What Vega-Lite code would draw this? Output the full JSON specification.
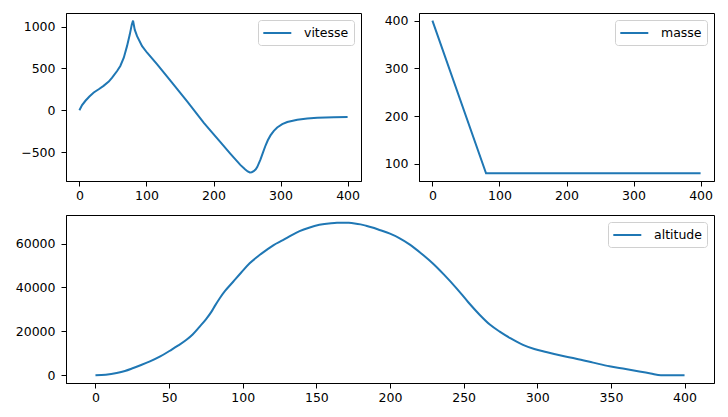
{
  "$schema": "https://vega.github.io/schema/vega-lite/v6.json",
  "autosize": {"type": "none"},
  "padding": {"left": 66, "top": 13, "right": 662, "bottom": 404},
  "background": "white",
  "datasets": {
    "vitesse": [
      {"t": 0, "v": 0}, {"t": 4, "v": 62}, {"t": 9, "v": 114}, {"t": 14.9, "v": 165}, {"t": 21.4, "v": 213},
      {"t": 28.8, "v": 252}, {"t": 36, "v": 292}, {"t": 43.8, "v": 343}, {"t": 48.8, "v": 390}, {"t": 56.2, "v": 470},
      {"t": 61, "v": 530}, {"t": 66.2, "v": 628}, {"t": 71, "v": 767}, {"t": 75.1, "v": 905}, {"t": 78.1, "v": 1024},
      {"t": 80, "v": 1072}, {"t": 82.5, "v": 964}, {"t": 86, "v": 886}, {"t": 93.5, "v": 767}, {"t": 101, "v": 688},
      {"t": 116, "v": 549}, {"t": 136, "v": 351}, {"t": 160.7, "v": 106}, {"t": 185.6, "v": -150}, {"t": 195.5, "v": -243},
      {"t": 210, "v": -378}, {"t": 225, "v": -517}, {"t": 240, "v": -652}, {"t": 247, "v": -705}, {"t": 251, "v": -731},
      {"t": 254.2, "v": -742}, {"t": 257, "v": -740}, {"t": 260, "v": -727}, {"t": 263, "v": -705}, {"t": 265.2, "v": -678},
      {"t": 270, "v": -590}, {"t": 274, "v": -500}, {"t": 277.6, "v": -421}, {"t": 281, "v": -358}, {"t": 285, "v": -300},
      {"t": 290, "v": -245}, {"t": 295, "v": -205}, {"t": 302.5, "v": -166}, {"t": 310, "v": -140}, {"t": 325, "v": -112},
      {"t": 339.8, "v": -97}, {"t": 354.7, "v": -88}, {"t": 379.6, "v": -82}, {"t": 400, "v": -79}
    ],
    "masse": [
      {"t": 0, "m": 400}, {"t": 80, "m": 80}, {"t": 400, "m": 80}
    ],
    "altitude": [
      {"t": 0, "a": 0}, {"t": 7, "a": 300}, {"t": 14.4, "a": 1090}, {"t": 20, "a": 2000}, {"t": 25.7, "a": 3350},
      {"t": 31, "a": 4700}, {"t": 37, "a": 6350}, {"t": 44, "a": 8600}, {"t": 50.5, "a": 11200}, {"t": 56, "a": 13500},
      {"t": 61.8, "a": 16200}, {"t": 66, "a": 18600}, {"t": 70.8, "a": 22200}, {"t": 75, "a": 25500}, {"t": 78.8, "a": 29000},
      {"t": 81, "a": 31500}, {"t": 84.4, "a": 35100}, {"t": 88, "a": 38400}, {"t": 93.5, "a": 42600}, {"t": 99, "a": 46800},
      {"t": 104.7, "a": 51000}, {"t": 110, "a": 54000}, {"t": 116, "a": 57000}, {"t": 121, "a": 59300}, {"t": 127.3, "a": 61500},
      {"t": 133, "a": 63700}, {"t": 138.6, "a": 65600}, {"t": 145, "a": 67200}, {"t": 152, "a": 68500}, {"t": 160, "a": 69250},
      {"t": 164, "a": 69450}, {"t": 168, "a": 69500}, {"t": 172, "a": 69420}, {"t": 176, "a": 69150}, {"t": 180, "a": 68700},
      {"t": 183.7, "a": 68100}, {"t": 188, "a": 67300}, {"t": 192, "a": 66400}, {"t": 200, "a": 64500},
      {"t": 206, "a": 62600}, {"t": 213.5, "a": 59500}, {"t": 221, "a": 55600}, {"t": 229.3, "a": 50800}, {"t": 237, "a": 45600},
      {"t": 245.2, "a": 39600}, {"t": 253, "a": 33400}, {"t": 261, "a": 27500}, {"t": 268, "a": 23000}, {"t": 274.5, "a": 19900},
      {"t": 282, "a": 16800}, {"t": 290.3, "a": 13900}, {"t": 298, "a": 12000}, {"t": 306, "a": 10600}, {"t": 316, "a": 9000},
      {"t": 326.4, "a": 7600}, {"t": 338, "a": 5800}, {"t": 349, "a": 4100}, {"t": 360, "a": 2900}, {"t": 369.3, "a": 1800},
      {"t": 377, "a": 850}, {"t": 384, "a": 0}, {"t": 400, "a": 0}
    ]
  },
  "vconcat": [
    {
      "hconcat": [
        {
          "width": 295,
          "height": 168,
          "data": {"name": "vitesse"},
          "mark": {"type": "line", "strokeWidth": 2, "clip": true},
          "encoding": {
            "x": {"field": "t", "type": "quantitative", "scale": {"domain": [-20, 420], "nice": false, "zero": false}, "axis": {"values": [0, 100, 200, 300, 400], "title": null}},
            "y": {"field": "v", "type": "quantitative", "scale": {"domain": [-845, 1163], "nice": false, "zero": false}, "axis": {"values": [-500, 0, 500, 1000], "format": "d", "title": null}},
            "color": {"datum": "vitesse", "type": "nominal", "scale": {"range": ["#1f77b4"]}, "legend": {"title": null}}
          }
        },
        {
          "width": 295,
          "height": 168,
          "data": {"name": "masse"},
          "mark": {"type": "line", "strokeWidth": 2, "clip": true},
          "encoding": {
            "x": {"field": "t", "type": "quantitative", "scale": {"domain": [-20, 420], "nice": false, "zero": false}, "axis": {"values": [0, 100, 200, 300, 400], "title": null}},
            "y": {"field": "m", "type": "quantitative", "scale": {"domain": [64, 416], "nice": false, "zero": false}, "axis": {"values": [100, 200, 300, 400], "format": "d", "title": null}},
            "color": {"datum": "masse", "type": "nominal", "scale": {"range": ["#1f77b4"]}, "legend": {"title": null}}
          }
        }
      ],
      "spacing": 58,
      "bounds": "flush",
      "resolve": {"scale": {"color": "independent"}, "legend": {"color": "independent"}}
    },
    {
      "width": 648,
      "height": 168,
      "data": {"name": "altitude"},
      "mark": {"type": "line", "strokeWidth": 2, "clip": true, "interpolate": "monotone"},
      "encoding": {
        "x": {"field": "t", "type": "quantitative", "scale": {"domain": [-20, 420], "nice": false, "zero": false}, "axis": {"values": [0, 50, 100, 150, 200, 250, 300, 350, 400], "title": null}},
        "y": {"field": "a", "type": "quantitative", "scale": {"domain": [-3475, 72975], "nice": false, "zero": false}, "axis": {"values": [0, 20000, 40000, 60000], "format": "d", "title": null}},
        "color": {"datum": "altitude", "type": "nominal", "scale": {"range": ["#1f77b4"]}, "legend": {"title": null}}
      }
    }
  ],
  "spacing": 12,
  "resolve": {"scale": {"color": "independent"}, "legend": {"color": "independent"}},
  "config": {
    "view": {"stroke": "black", "strokeWidth": 1, "fill": "white"},
    "axis": {
      "grid": false,
      "domainColor": "black",
      "domainWidth": 1,
      "tickColor": "black",
      "tickWidth": 1,
      "tickSize": 5,
      "labelColor": "black",
      "labelFont": "DejaVu Sans",
      "labelFontSize": 12.5,
      "labelFlush": false,
      "labelOverlap": false
    },
    "axisX": {"labelPadding": 3},
    "axisY": {"labelPadding": 6},
    "legend": {
      "orient": "top-right",
      "offset": 7,
      "padding": 5,
      "strokeColor": "#d0d0d0",
      "fillColor": "white",
      "cornerRadius": 3,
      "symbolType": "M-1.1,0H2.9",
      "symbolSize": 196,
      "symbolStrokeWidth": 2,
      "labelFont": "DejaVu Sans",
      "labelFontSize": 12.5,
      "labelColor": "black",
      "labelOffset": 25
    }
  }
}
